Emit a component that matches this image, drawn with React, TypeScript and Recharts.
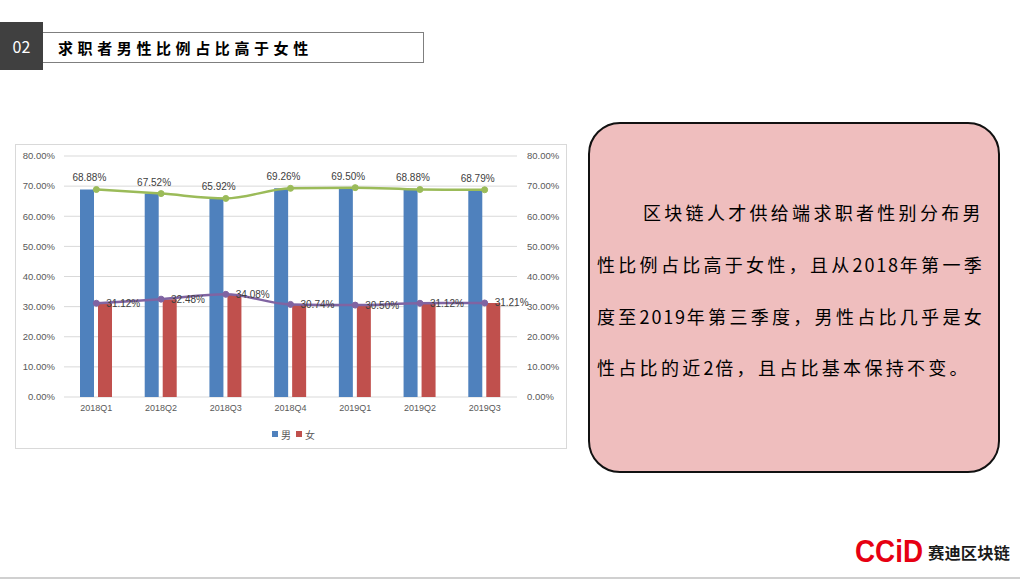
import React from 'react';
import {
  ComposedChart,
  Bar,
  Line,
  XAxis,
  YAxis,
  CartesianGrid,
  LabelList,
} from 'recharts';

const categories = ['2018Q1', '2018Q2', '2018Q3', '2018Q4', '2019Q1', '2019Q2', '2019Q3'];
const maleShare = [68.88, 67.52, 65.92, 69.26, 69.5, 68.88, 68.79];
const femaleShare = [31.12, 32.48, 34.08, 30.74, 30.5, 31.12, 31.21];
const yTicks = [0, 10, 20, 30, 40, 50, 60, 70, 80];
const seriesNames = ['男', '女'];
const paragraphLines = [
  '区块链人才供给端求职者性别分布男',
  '性比例占比高于女性，且从2018年第一季',
  '度至2019年第三季度，男性占比几乎是女',
  '性占比的近2倍，且占比基本保持不变。',
];

const BLUE = '#4F81BD';
const RED = '#C0504D';
const GREEN = '#9BBB59';
const PURPLE = '#8064A2';
const LATIN = '"Liberation Sans", Arial, "Noto Sans CJK SC", sans-serif';
const CJK = '"Noto Sans CJK SC", "Noto Sans", sans-serif';

const data = categories.map((cat, i) => ({
  cat,
  male: maleShare[i],
  female: femaleShare[i],
}));

const fmt = (v: number) => `${Number(v).toFixed(2)}%`;

const MaleLabel = (props: any) => {
  const { x, y, value } = props;
  if (x == null || y == null) return null;
  return (
    <text x={x - 7} y={y - 8} textAnchor="middle" fontSize={10} fill="#404040" fontFamily={LATIN}>
      {fmt(value)}
    </text>
  );
};

const FemaleLabel = (props: any) => {
  const { x, y, value } = props;
  if (x == null || y == null) return null;
  return (
    <text x={x + 10} y={y} dy="0.35em" textAnchor="start" fontSize={10} fill="#404040" fontFamily={LATIN}>
      {fmt(value)}
    </text>
  );
};

const renderLine = (line: string) =>
  line.split(/(\d+)/).map((part, j) =>
    /^\d+$/.test(part) ? (
      <span key={j} style={{ letterSpacing: 1.8 }}>
        {part}
      </span>
    ) : (
      <span key={j}>{part}</span>
    )
  );

export default function App() {
  return (
    <div
      style={{
        position: 'absolute',
        left: 0,
        top: 0,
        width: 1020,
        height: 580,
        background: '#ffffff',
        overflow: 'hidden',
        fontFamily: LATIN,
      }}
    >
      {/* Header */}
      <div
        style={{
          position: 'absolute',
          left: 0,
          top: 22,
          width: 43,
          height: 48,
          background: '#404040',
          color: '#ffffff',
          fontSize: 16,
          lineHeight: '48px',
          textAlign: 'center',
          fontFamily: CJK,
        }}
      >
        02
      </div>
      <div
        style={{
          position: 'absolute',
          left: 43,
          top: 32,
          width: 381,
          height: 31,
          boxSizing: 'border-box',
          border: '1px solid #7f7f7f',
          borderLeft: 'none',
        }}
      />
      <div
        style={{
          position: 'absolute',
          left: 58,
          top: 36,
          height: 24,
          lineHeight: '24px',
          fontSize: 15,
          fontWeight: 700,
          letterSpacing: 4.6,
          color: '#000000',
          fontFamily: CJK,
          whiteSpace: 'nowrap',
        }}
      >
        求职者男性比例占比高于女性
      </div>

      {/* Chart box */}
      <div
        style={{
          position: 'absolute',
          left: 15,
          top: 144,
          width: 552,
          height: 305,
          boxSizing: 'border-box',
          border: '1px solid #d9d9d9',
          background: '#ffffff',
        }}
      >
        <ComposedChart
          width={550}
          height={303}
          data={data}
          margin={{ top: 11, right: 0, bottom: 0, left: 0 }}
          barSize={14}
          barGap={4}
        >
          <CartesianGrid vertical={false} stroke="#d9d9d9" strokeWidth={1} yAxisId="left" />
          <XAxis
            dataKey="cat"
            height={51}
            axisLine={false}
            tickLine={false}
            tickSize={0}
            tickMargin={8}
            interval={0}
            tick={{ fontSize: 9, fill: '#595959', fontFamily: LATIN }}
          />
          <YAxis
            yAxisId="left"
            width={48}
            domain={[0, 80]}
            ticks={yTicks}
            allowDataOverflow
            axisLine={false}
            tickLine={false}
            tickSize={0}
            tickMargin={9}
            tickFormatter={fmt}
            tick={{ fontSize: 9.5, fill: '#595959', fontFamily: LATIN }}
          />
          <YAxis
            yAxisId="right"
            orientation="right"
            width={49}
            domain={[0, 80]}
            ticks={yTicks}
            allowDataOverflow
            axisLine={false}
            tickLine={false}
            tickSize={0}
            tickMargin={10}
            tickFormatter={fmt}
            tick={{ fontSize: 9.5, fill: '#595959', fontFamily: LATIN, textAnchor: 'start' }}
          />
          <Bar yAxisId="left" dataKey="male" name={seriesNames[0]} fill={BLUE} isAnimationActive={false} />
          <Bar yAxisId="left" dataKey="female" name={seriesNames[1]} fill={RED} isAnimationActive={false} />
          <Line
            yAxisId="right"
            type="monotone"
            dataKey="male"
            stroke={GREEN}
            strokeWidth={2.5}
            dot={{ r: 3, fill: GREEN, stroke: GREEN, strokeWidth: 1 }}
            activeDot={false}
            legendType="none"
            isAnimationActive={false}
          >
            <LabelList dataKey="male" content={MaleLabel} />
          </Line>
          <Line
            yAxisId="right"
            type="monotone"
            dataKey="female"
            stroke={PURPLE}
            strokeWidth={2.5}
            dot={{ r: 3, fill: PURPLE, stroke: PURPLE, strokeWidth: 1 }}
            activeDot={false}
            legendType="none"
            isAnimationActive={false}
          >
            <LabelList dataKey="female" content={FemaleLabel} />
          </Line>
        </ComposedChart>
      </div>

      {/* Legend */}
      <div
        style={{
          position: 'absolute',
          left: 272,
          top: 426,
          height: 16,
          display: 'flex',
          alignItems: 'center',
          fontSize: 10,
          color: '#595959',
          fontFamily: CJK,
          whiteSpace: 'nowrap',
        }}
      >
        <span style={{ display: 'inline-block', width: 6, height: 6, background: BLUE, marginRight: 3 }} />
        <span style={{ marginRight: 5 }}>{seriesNames[0]}</span>
        <span style={{ display: 'inline-block', width: 6, height: 6, background: RED, marginRight: 3 }} />
        <span>{seriesNames[1]}</span>
      </div>

      {/* Text box */}
      <div
        style={{
          position: 'absolute',
          left: 588,
          top: 122,
          width: 412,
          height: 351,
          boxSizing: 'border-box',
          border: '2px solid #111111',
          borderRadius: 32,
          background: '#EFBEBE',
        }}
      />
      {paragraphLines.map((line, i) => (
        <div
          key={i}
          style={{
            position: 'absolute',
            left: i === 0 ? 643 : 597,
            top: [212, 264, 316, 367][i] - 13,
            height: 26,
            lineHeight: '26px',
            fontSize: 18,
            letterSpacing: 3.3,
            color: '#000000',
            fontFamily: CJK,
            whiteSpace: 'nowrap',
          }}
        >
          {renderLine(line)}
        </div>
      ))}

      {/* Logo */}
      <svg style={{ position: 'absolute', left: 852, top: 532 }} width={160} height={36}>
        <text
          x={3}
          y={30}
          fontSize={32}
          fontWeight={700}
          fill="#E60012"
          fontFamily={LATIN}
          textLength={68}
          lengthAdjust="spacingAndGlyphs"
        >
          CCiD
        </text>
        <text x={76} y={27} fontSize={16} fontWeight={700} fill="#1a1a1a" fontFamily={CJK} textLength={82} lengthAdjust="spacingAndGlyphs">
          赛迪区块链
        </text>
      </svg>

      {/* Bottom rule */}
      <div style={{ position: 'absolute', left: 0, top: 577, width: 1020, height: 2, background: '#d0d0d0' }} />
    </div>
  );
}
